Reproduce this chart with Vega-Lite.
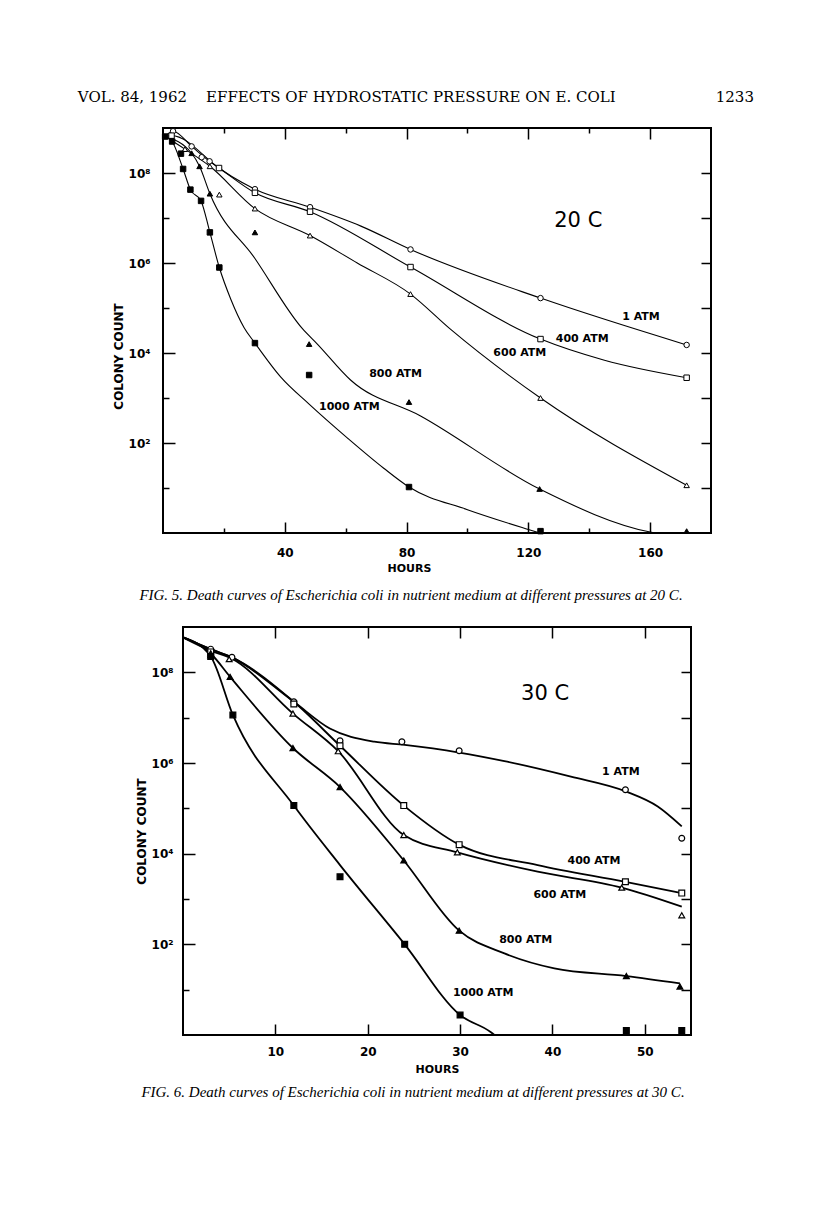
{
  "$schema": "https://vega.github.io/schema/vega-lite/v6.json",
  "background": "white",
  "padding": {"left": 77, "top": 90, "right": 5, "bottom": 5},
  "datasets": {
    "pts1": [
      {"s": "1 ATM", "h": 3.3, "c": 8.5e8}, {"s": "1 ATM", "h": 9.4, "c": 3.9e8}, {"s": "1 ATM", "h": 12.7, "c": 2.24e8}, {"s": "1 ATM", "h": 15.3, "c": 1.82e8}, {"s": "1 ATM", "h": 30.2, "c": 4.37e7}, {"s": "1 ATM", "h": 48.3, "c": 1.74e7}, {"s": "1 ATM", "h": 81.3, "c": 2.0e6}, {"s": "1 ATM", "h": 124, "c": 1.66e5}, {"s": "1 ATM", "h": 172, "c": 1.51e4},
      {"s": "400 ATM", "h": 2.8, "c": 6.76e8}, {"s": "400 ATM", "h": 18.4, "c": 1.29e8}, {"s": "400 ATM", "h": 30.2, "c": 3.63e7}, {"s": "400 ATM", "h": 48.3, "c": 1.38e7}, {"s": "400 ATM", "h": 81.3, "c": 8.13e5}, {"s": "400 ATM", "h": 124, "c": 2.04e4}, {"s": "400 ATM", "h": 172, "c": 2.82e3},
      {"s": "600 ATM", "h": 7.2, "c": 3.39e8}, {"s": "600 ATM", "h": 15.4, "c": 1.41e8}, {"s": "600 ATM", "h": 18.5, "c": 3.31e7}, {"s": "600 ATM", "h": 30.2, "c": 1.62e7}, {"s": "600 ATM", "h": 48.3, "c": 4.07e6}, {"s": "600 ATM", "h": 81.3, "c": 2.04e5}, {"s": "600 ATM", "h": 124, "c": 1.0e3}, {"s": "600 ATM", "h": 172, "c": 11.5},
      {"s": "800 ATM", "h": 9.4, "c": 2.75e8}, {"s": "800 ATM", "h": 12.0, "c": 1.41e8}, {"s": "800 ATM", "h": 15.4, "c": 3.47e7}, {"s": "800 ATM", "h": 30.2, "c": 4.79e6}, {"s": "800 ATM", "h": 48.0, "c": 1.58e4}, {"s": "800 ATM", "h": 80.8, "c": 813}, {"s": "800 ATM", "h": 123.7, "c": 9.5}, {"s": "800 ATM", "h": 172, "c": 1.1},
      {"s": "1000 ATM", "h": 0.7, "c": 6.46e8}, {"s": "1000 ATM", "h": 3.0, "c": 5.01e8}, {"s": "1000 ATM", "h": 5.9, "c": 2.69e8}, {"s": "1000 ATM", "h": 6.6, "c": 1.23e8}, {"s": "1000 ATM", "h": 9.0, "c": 4.27e7}, {"s": "1000 ATM", "h": 12.5, "c": 2.4e7}, {"s": "1000 ATM", "h": 15.4, "c": 4.79e6}, {"s": "1000 ATM", "h": 18.5, "c": 7.94e5}, {"s": "1000 ATM", "h": 30.2, "c": 1.66e4}, {"s": "1000 ATM", "h": 48.0, "c": 3.24e3}, {"s": "1000 ATM", "h": 80.8, "c": 10.5}, {"s": "1000 ATM", "h": 124, "c": 1.1}
    ],
    "crv1": [
      {"s": "1 ATM", "h": 0.7, "c": 6.46e8}, {"s": "1 ATM", "h": 3.3, "c": 8.5e8}, {"s": "1 ATM", "h": 9.4, "c": 3.9e8}, {"s": "1 ATM", "h": 15.3, "c": 1.82e8}, {"s": "1 ATM", "h": 30.2, "c": 4.37e7}, {"s": "1 ATM", "h": 48.3, "c": 1.74e7}, {"s": "1 ATM", "h": 65, "c": 6.6e6}, {"s": "1 ATM", "h": 81.3, "c": 2.0e6}, {"s": "1 ATM", "h": 124, "c": 1.66e5}, {"s": "1 ATM", "h": 172, "c": 1.51e4},
      {"s": "400 ATM", "h": 0.7, "c": 6.46e8}, {"s": "400 ATM", "h": 2.8, "c": 6.76e8}, {"s": "400 ATM", "h": 18.4, "c": 1.29e8}, {"s": "400 ATM", "h": 30.2, "c": 3.63e7}, {"s": "400 ATM", "h": 48.3, "c": 1.38e7}, {"s": "400 ATM", "h": 81.3, "c": 8.13e5}, {"s": "400 ATM", "h": 124, "c": 2.04e4}, {"s": "400 ATM", "h": 145, "c": 6.9e3}, {"s": "400 ATM", "h": 172, "c": 2.82e3},
      {"s": "600 ATM", "h": 0.7, "c": 6.46e8}, {"s": "600 ATM", "h": 7.2, "c": 3.39e8}, {"s": "600 ATM", "h": 15.4, "c": 1.41e8}, {"s": "600 ATM", "h": 30.2, "c": 1.62e7}, {"s": "600 ATM", "h": 48.3, "c": 4.07e6}, {"s": "600 ATM", "h": 63.8, "c": 1.0e6}, {"s": "600 ATM", "h": 81.3, "c": 2.04e5}, {"s": "600 ATM", "h": 94.4, "c": 3.39e4}, {"s": "600 ATM", "h": 124, "c": 1.0e3}, {"s": "600 ATM", "h": 172, "c": 11.5},
      {"s": "800 ATM", "h": 0.7, "c": 6.46e8}, {"s": "800 ATM", "h": 9.4, "c": 2.75e8}, {"s": "800 ATM", "h": 12, "c": 1.41e8}, {"s": "800 ATM", "h": 15.4, "c": 3.47e7}, {"s": "800 ATM", "h": 30.2, "c": 1.26e6}, {"s": "800 ATM", "h": 45.8, "c": 3.47e4}, {"s": "800 ATM", "h": 50.7, "c": 1.58e4}, {"s": "800 ATM", "h": 61.6, "c": 2.51e3}, {"s": "800 ATM", "h": 84.6, "c": 398}, {"s": "800 ATM", "h": 123.7, "c": 9.5}, {"s": "800 ATM", "h": 160, "c": 1.05}, {"s": "800 ATM", "h": 166, "c": 0.9},
      {"s": "1000 ATM", "h": 0.7, "c": 6.46e8}, {"s": "1000 ATM", "h": 3.0, "c": 5.01e8}, {"s": "1000 ATM", "h": 6.6, "c": 1.23e8}, {"s": "1000 ATM", "h": 9.0, "c": 4.27e7}, {"s": "1000 ATM", "h": 12.5, "c": 2.4e7}, {"s": "1000 ATM", "h": 15.4, "c": 4.79e6}, {"s": "1000 ATM", "h": 18.5, "c": 7.94e5}, {"s": "1000 ATM", "h": 22.3, "c": 1.55e5}, {"s": "1000 ATM", "h": 26.6, "c": 3.7e4}, {"s": "1000 ATM", "h": 30.2, "c": 1.66e4}, {"s": "1000 ATM", "h": 38.7, "c": 2.9e3}, {"s": "1000 ATM", "h": 47.9, "c": 741}, {"s": "1000 ATM", "h": 60.7, "c": 127}, {"s": "1000 ATM", "h": 72.5, "c": 27.5}, {"s": "1000 ATM", "h": 80.8, "c": 10.5}, {"s": "1000 ATM", "h": 100, "c": 3.3}, {"s": "1000 ATM", "h": 120, "c": 1.2}, {"s": "1000 ATM", "h": 126, "c": 0.9}
    ],
    "lab1": [
      {"t": "20 C", "h": 136.4, "c": 8.5e6},
      {"t": "1 ATM", "h": 157, "c": 6.46e4},
      {"t": "400 ATM", "h": 137.7, "c": 2.04e4},
      {"t": "600 ATM", "h": 117.2, "c": 1.02e4},
      {"t": "800 ATM", "h": 76.4, "c": 3.39e3},
      {"t": "1000 ATM", "h": 61.2, "c": 631}
    ],
    "pts2": [
      {"s": "1 ATM", "h": 3, "c": 3.24e8}, {"s": "1 ATM", "h": 5.3, "c": 2.14e8}, {"s": "1 ATM", "h": 12, "c": 2.24e7}, {"s": "1 ATM", "h": 17, "c": 3.09e6}, {"s": "1 ATM", "h": 23.7, "c": 2.95e6}, {"s": "1 ATM", "h": 29.9, "c": 1.86e6}, {"s": "1 ATM", "h": 47.9, "c": 2.57e5}, {"s": "1 ATM", "h": 54, "c": 2.19e4},
      {"s": "400 ATM", "h": 3, "c": 2.82e8}, {"s": "400 ATM", "h": 12, "c": 2.0e7}, {"s": "400 ATM", "h": 17, "c": 2.4e6}, {"s": "400 ATM", "h": 23.9, "c": 1.15e5}, {"s": "400 ATM", "h": 29.9, "c": 1.58e4}, {"s": "400 ATM", "h": 47.9, "c": 2.4e3}, {"s": "400 ATM", "h": 54, "c": 1.35e3},
      {"s": "600 ATM", "h": 3, "c": 2.63e8}, {"s": "600 ATM", "h": 5, "c": 1.95e8}, {"s": "600 ATM", "h": 11.9, "c": 1.23e7}, {"s": "600 ATM", "h": 16.8, "c": 1.82e6}, {"s": "600 ATM", "h": 23.9, "c": 2.57e4}, {"s": "600 ATM", "h": 29.7, "c": 1.07e4}, {"s": "600 ATM", "h": 47.5, "c": 1.78e3}, {"s": "600 ATM", "h": 54, "c": 437},
      {"s": "800 ATM", "h": 3, "c": 2.4e8}, {"s": "800 ATM", "h": 5.1, "c": 7.94e7}, {"s": "800 ATM", "h": 11.9, "c": 2.14e6}, {"s": "800 ATM", "h": 17, "c": 2.95e5}, {"s": "800 ATM", "h": 23.9, "c": 7.08e3}, {"s": "800 ATM", "h": 29.9, "c": 200}, {"s": "800 ATM", "h": 48, "c": 20}, {"s": "800 ATM", "h": 53.8, "c": 11.7},
      {"s": "1000 ATM", "h": 3, "c": 2.24e8}, {"s": "1000 ATM", "h": 5.4, "c": 1.15e7}, {"s": "1000 ATM", "h": 12, "c": 1.15e5}, {"s": "1000 ATM", "h": 17, "c": 3.09e3}, {"s": "1000 ATM", "h": 24, "c": 100}, {"s": "1000 ATM", "h": 30, "c": 2.75}, {"s": "1000 ATM", "h": 48, "c": 1.26}, {"s": "1000 ATM", "h": 54, "c": 1.26}
    ],
    "crv2": [
      {"s": "1 ATM", "h": 0, "c": 5.9e8}, {"s": "1 ATM", "h": 3, "c": 3.24e8}, {"s": "1 ATM", "h": 5.3, "c": 2.14e8}, {"s": "1 ATM", "h": 12, "c": 2.24e7}, {"s": "1 ATM", "h": 15.9, "c": 5.75e6}, {"s": "1 ATM", "h": 20.7, "c": 2.95e6}, {"s": "1 ATM", "h": 24, "c": 2.51e6}, {"s": "1 ATM", "h": 29.9, "c": 1.7e6}, {"s": "1 ATM", "h": 34.8, "c": 1.1e6}, {"s": "1 ATM", "h": 42, "c": 5.0e5}, {"s": "1 ATM", "h": 48, "c": 2.34e5}, {"s": "1 ATM", "h": 51.4, "c": 1.1e5}, {"s": "1 ATM", "h": 54, "c": 4.0e4},
      {"s": "400 ATM", "h": 0, "c": 5.9e8}, {"s": "400 ATM", "h": 3, "c": 3.24e8}, {"s": "400 ATM", "h": 5.3, "c": 2.14e8}, {"s": "400 ATM", "h": 12, "c": 2.24e7}, {"s": "400 ATM", "h": 17, "c": 2.4e6}, {"s": "400 ATM", "h": 23.9, "c": 1.15e5}, {"s": "400 ATM", "h": 29.9, "c": 1.58e4}, {"s": "400 ATM", "h": 38.4, "c": 5.6e3}, {"s": "400 ATM", "h": 47.9, "c": 2.4e3}, {"s": "400 ATM", "h": 54, "c": 1.35e3},
      {"s": "600 ATM", "h": 0, "c": 5.9e8}, {"s": "600 ATM", "h": 3, "c": 3.0e8}, {"s": "600 ATM", "h": 5.3, "c": 2.0e8}, {"s": "600 ATM", "h": 11.9, "c": 1.23e7}, {"s": "600 ATM", "h": 16.8, "c": 1.82e6}, {"s": "600 ATM", "h": 23.9, "c": 2.57e4}, {"s": "600 ATM", "h": 29.7, "c": 1.07e4}, {"s": "600 ATM", "h": 38.4, "c": 4.0e3}, {"s": "600 ATM", "h": 47.5, "c": 1.78e3}, {"s": "600 ATM", "h": 54, "c": 676},
      {"s": "800 ATM", "h": 0, "c": 5.9e8}, {"s": "800 ATM", "h": 3, "c": 2.6e8}, {"s": "800 ATM", "h": 5.1, "c": 7.94e7}, {"s": "800 ATM", "h": 11.9, "c": 2.14e6}, {"s": "800 ATM", "h": 17, "c": 2.95e5}, {"s": "800 ATM", "h": 23.9, "c": 7.08e3}, {"s": "800 ATM", "h": 29.9, "c": 200}, {"s": "800 ATM", "h": 34.8, "c": 63}, {"s": "800 ATM", "h": 40.2, "c": 29.5}, {"s": "800 ATM", "h": 48, "c": 20}, {"s": "800 ATM", "h": 53.8, "c": 13.8},
      {"s": "1000 ATM", "h": 0, "c": 5.9e8}, {"s": "1000 ATM", "h": 3, "c": 2.24e8}, {"s": "1000 ATM", "h": 5.4, "c": 1.15e7}, {"s": "1000 ATM", "h": 12, "c": 1.15e5}, {"s": "1000 ATM", "h": 17, "c": 5.6e3}, {"s": "1000 ATM", "h": 24, "c": 100}, {"s": "1000 ATM", "h": 30, "c": 2.75}, {"s": "1000 ATM", "h": 33.3, "c": 1.17}, {"s": "1000 ATM", "h": 34, "c": 0.9}
    ],
    "lab2": [
      {"t": "30 C", "h": 39.2, "c": 3.3e7},
      {"t": "1 ATM", "h": 47.4, "c": 6.2e5},
      {"t": "400 ATM", "h": 44.5, "c": 6.8e3},
      {"t": "600 ATM", "h": 40.8, "c": 1.2e3},
      {"t": "800 ATM", "h": 37.1, "c": 123},
      {"t": "1000 ATM", "h": 32.5, "c": 8.3}
    ]
  },
  "title": {
    "text": "VOL. 84, 1962\u00a0\u00a0\u00a0\u00a0EFFECTS OF HYDROSTATIC PRESSURE ON E. COLI\u00a0\u00a0\u00a0\u00a0\u00a0\u00a0\u00a0\u00a0\u00a0\u00a0\u00a0\u00a0\u00a0\u00a0\u00a0\u00a0\u00a0\u00a0\u00a0\u00a0\u00a01233",
    "font": "DejaVu Serif", "fontSize": 15, "fontWeight": "normal", "color": "black",
    "anchor": "middle", "dx": 4, "offset": 20
  },
  "spacing": 94,
  "bounds": "flush",
  "center": true,
  "vconcat": [
    {
      "width": 548, "height": 405,
      "title": {"text": "FIG. 5. Death curves of Escherichia coli in nutrient medium at different pressures at 20 C.", "orient": "bottom", "font": "Liberation Serif", "fontSize": 15, "fontStyle": "italic", "fontWeight": "normal", "color": "black", "offset": 15, "dx": -26},
      "layer": [
        {
          "data": {"name": "crv1"},
          "mark": {"type": "line", "interpolate": "monotone", "color": "black", "strokeWidth": 1.1, "clip": true},
          "encoding": {
            "x": {"field": "h", "type": "quantitative", "scale": {"domain": [0, 180], "nice": false, "zero": false},
              "axis": {"orient": "bottom", "values": [20, 40, 60, 80, 100, 120, 140, 160], "labelExpr": "datum.value % 40 == 0 ? datum.label : ''",
                "tickSize": {"condition": {"test": "datum.value % 40 == 0", "value": -11}, "value": -5},
                "labelPadding": 25, "labelFontSize": 12, "title": "HOURS", "titleFontSize": 11, "titlePadding": -2, "titleX": 246}},
            "y": {"field": "c", "type": "quantitative", "scale": {"type": "log", "domain": [1, 1e9], "nice": false},
              "axis": {"orient": "left", "values": [10, 100, 1000, 10000, 100000, 1000000, 10000000, 100000000],
                "labelExpr": "datum.value == 100 ? '10²' : datum.value == 10000 ? '10⁴' : datum.value == 1000000 ? '10⁶' : datum.value == 100000000 ? '10⁸' : ''",
                "tickSize": {"condition": {"test": "datum.value == 100 || datum.value == 10000 || datum.value == 1000000 || datum.value == 100000000", "value": -12}, "value": -6},
                "labelPadding": 25, "labelFontSize": 12, "title": "COLONY COUNT", "titleFontSize": 12, "titlePadding": 3, "titleY": 228}},
            "detail": {"field": "s"}
          }
        },
        {
          "data": {"name": "pts1"},
          "mark": {"type": "point", "filled": true, "stroke": "black", "strokeWidth": 1, "size": 30, "opacity": 1},
          "encoding": {
            "x": {"field": "h", "type": "quantitative",
              "axis": {"orient": "top", "values": [20, 40, 60, 80, 100, 120, 140, 160], "labels": false, "title": null,
                "tickSize": {"condition": {"test": "datum.value % 40 == 0", "value": -11}, "value": -5}}},
            "y": {"field": "c", "type": "quantitative",
              "axis": {"orient": "right", "values": [10, 100, 1000, 10000, 100000, 1000000, 10000000, 100000000], "labels": false, "title": null, "tickSize": -10}},
            "shape": {"field": "s", "scale": {"domain": ["1 ATM", "400 ATM", "600 ATM", "800 ATM", "1000 ATM"], "range": ["circle", "square", "triangle-up", "triangle-up", "square"]}, "legend": null},
            "fill": {"field": "s", "scale": {"domain": ["1 ATM", "400 ATM", "600 ATM", "800 ATM", "1000 ATM"], "range": ["white", "white", "white", "black", "black"]}, "legend": null}
          }
        },
        {
          "data": {"name": "lab1"},
          "transform": [{"filter": "datum.t != '20 C'"}],
          "mark": {"type": "text", "font": "DejaVu Sans", "fontWeight": "bold", "fontSize": 11, "color": "black", "align": "center", "baseline": "middle"},
          "encoding": {
            "x": {"field": "h", "type": "quantitative", "axis": null},
            "y": {"field": "c", "type": "quantitative", "axis": null},
            "text": {"field": "t"}
          }
        },
        {
          "data": {"name": "lab1"},
          "transform": [{"filter": "datum.t == '20 C'"}],
          "mark": {"type": "text", "font": "DejaVu Sans", "fontWeight": "normal", "fontSize": 21, "color": "black", "align": "center", "baseline": "middle"},
          "encoding": {
            "x": {"field": "h", "type": "quantitative", "axis": null},
            "y": {"field": "c", "type": "quantitative", "axis": null},
            "text": {"field": "t"}
          }
        }
      ],
      "resolve": {"axis": {"x": "independent", "y": "independent"}}
    },
    {
      "width": 508, "height": 408,
      "title": {"text": "FIG. 6. Death curves of Escherichia coli in nutrient medium at different pressures at 30 C.", "orient": "bottom", "font": "Liberation Serif", "fontSize": 15, "fontStyle": "italic", "fontWeight": "normal", "color": "black", "offset": 11, "dx": -24},
      "layer": [
        {
          "data": {"name": "crv2"},
          "mark": {"type": "line", "interpolate": "monotone", "color": "black", "strokeWidth": 1.8, "clip": true},
          "encoding": {
            "x": {"field": "h", "type": "quantitative", "scale": {"domain": [0, 55], "nice": false, "zero": false},
              "axis": {"orient": "bottom", "values": [10, 20, 30, 40, 50], "tickSize": -11,
                "labelPadding": 22, "labelFontSize": 12, "title": "HOURS", "titleFontSize": 11, "titlePadding": 6}},
            "y": {"field": "c", "type": "quantitative", "scale": {"type": "log", "domain": [1, 1e9], "nice": false},
              "axis": {"orient": "left", "values": [10, 100, 1000, 10000, 100000, 1000000, 10000000, 100000000],
                "labelExpr": "datum.value == 100 ? '10²' : datum.value == 10000 ? '10⁴' : datum.value == 1000000 ? '10⁶' : datum.value == 100000000 ? '10⁸' : ''",
                "tickSize": {"condition": {"test": "datum.value == 100 || datum.value == 10000 || datum.value == 1000000 || datum.value == 100000000", "value": -12}, "value": -6},
                "labelPadding": 22, "labelFontSize": 12, "title": "COLONY COUNT", "titleFontSize": 12, "titlePadding": 3}},
            "detail": {"field": "s"}
          }
        },
        {
          "data": {"name": "pts2"},
          "mark": {"type": "point", "filled": true, "stroke": "black", "strokeWidth": 1.2, "size": 34, "opacity": 1},
          "encoding": {
            "x": {"field": "h", "type": "quantitative",
              "axis": {"orient": "top", "values": [10, 20, 30, 40, 50], "labels": false, "title": null, "tickSize": -11}},
            "y": {"field": "c", "type": "quantitative",
              "axis": {"orient": "right", "values": [10, 100, 1000, 10000, 100000, 1000000, 10000000, 100000000], "labels": false, "title": null, "tickSize": -10}},
            "shape": {"field": "s", "scale": {"domain": ["1 ATM", "400 ATM", "600 ATM", "800 ATM", "1000 ATM"], "range": ["circle", "square", "triangle-up", "triangle-up", "square"]}, "legend": null},
            "fill": {"field": "s", "scale": {"domain": ["1 ATM", "400 ATM", "600 ATM", "800 ATM", "1000 ATM"], "range": ["white", "white", "white", "black", "black"]}, "legend": null}
          }
        },
        {
          "data": {"name": "lab2"},
          "transform": [{"filter": "datum.t != '30 C'"}],
          "mark": {"type": "text", "font": "DejaVu Sans", "fontWeight": "bold", "fontSize": 11, "color": "black", "align": "center", "baseline": "middle"},
          "encoding": {
            "x": {"field": "h", "type": "quantitative", "axis": null},
            "y": {"field": "c", "type": "quantitative", "axis": null},
            "text": {"field": "t"}
          }
        },
        {
          "data": {"name": "lab2"},
          "transform": [{"filter": "datum.t == '30 C'"}],
          "mark": {"type": "text", "font": "DejaVu Sans", "fontWeight": "normal", "fontSize": 21, "color": "black", "align": "center", "baseline": "middle"},
          "encoding": {
            "x": {"field": "h", "type": "quantitative", "axis": null},
            "y": {"field": "c", "type": "quantitative", "axis": null},
            "text": {"field": "t"}
          }
        }
      ],
      "resolve": {"axis": {"x": "independent", "y": "independent"}}
    }
  ],
  "config": {
    "view": {"stroke": "black", "strokeWidth": 2},
    "axis": {"domain": false, "grid": false, "tickColor": "black", "tickWidth": 1.5, "labelColor": "black", "titleColor": "black",
      "labelFont": "DejaVu Sans", "titleFont": "DejaVu Sans", "labelFontWeight": "bold", "titleFontWeight": "bold", "labelOverlap": false, "labelFlush": false}
  }
}
